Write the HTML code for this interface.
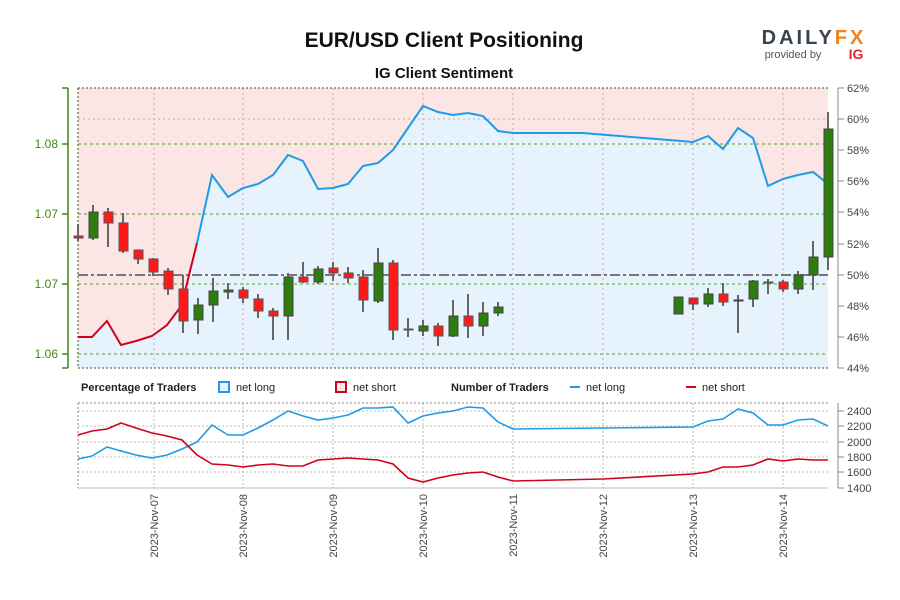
<!DOCTYPE html>
<html><head><meta charset="utf-8"><style>
body{margin:0;background:#fff;}
svg{display:block;font-family:"Liberation Sans",sans-serif;}
</style></head><body>
<svg width="900" height="600" viewBox="0 0 900 600" xmlns="http://www.w3.org/2000/svg">
<rect width="900" height="600" fill="#fff"/>
<text x="444" y="47" text-anchor="middle" font-size="21" font-weight="bold" fill="#111">EUR/USD Client Positioning</text>
<text x="444" y="78" text-anchor="middle" font-size="15" font-weight="bold" fill="#111">IG Client Sentiment</text>
<text x="814" y="44" text-anchor="middle" font-size="20" font-weight="bold" fill="#3b4350" letter-spacing="3">DAILY<tspan fill="#f0841c">FX</tspan></text>
<text x="793" y="58" text-anchor="middle" font-size="11" fill="#555">provided by</text>
<text x="856" y="59" text-anchor="middle" font-size="14" font-weight="bold" fill="#e3262b">IG</text>

<!-- main plot -->
<rect x="78" y="88" width="750" height="280" fill="#fbe5e5"/>
<polygon fill="#e6f3fc" points="78,337 92,337 107,321 121,345 136,341 152,336 167,325 182,305 197,243 212,175 228,197 243,188 258,184 273,175 288,155 303,161 318,189 333,188 348,184 363,166 378,163 393,150 408,128 423,106 438,112 453,115 468,113 483,116 498,131 513,133 583,133 693,142 708,136 723,149 738,128 753,138 768,186 783,179 798,175 813,172 828,184 828,368 78,368"/>
<g stroke="#c9a9a9" stroke-dasharray="2,3" stroke-width="1">
<line x1="78" y1="119" x2="828" y2="119"/>
<line x1="154" y1="88" x2="154" y2="368"/><line x1="243" y1="88" x2="243" y2="368"/><line x1="333" y1="88" x2="333" y2="368"/><line x1="423" y1="88" x2="423" y2="368"/><line x1="513" y1="88" x2="513" y2="368"/><line x1="603" y1="88" x2="603" y2="368"/><line x1="693" y1="88" x2="693" y2="368"/><line x1="783" y1="88" x2="783" y2="368"/>
</g>
<g stroke="#5aa02c" stroke-dasharray="3,3" stroke-width="1">
<line x1="78" y1="144" x2="828" y2="144"/><line x1="78" y1="214" x2="828" y2="214"/><line x1="78" y1="284" x2="828" y2="284"/><line x1="78" y1="354" x2="828" y2="354"/>
</g>
<g stroke="#2e5a10" stroke-dasharray="2,2" stroke-width="1">
<line x1="78" y1="88" x2="828" y2="88"/><line x1="78" y1="368" x2="828" y2="368"/><line x1="78" y1="88" x2="78" y2="368"/>
</g>
<line x1="78" y1="275" x2="828" y2="275" stroke="#777" stroke-width="2" stroke-dasharray="10,3,3,3"/>
<polyline fill="none" stroke="#d0021b" stroke-width="2" points="78,337 92,337 107,321 121,345 136,341 152,336 167,325 182,305 189,275 197,243"/>
<polyline fill="none" stroke="#1e9be6" stroke-width="2" points="197,243 212,175 228,197 243,188 258,184 273,175 288,155 303,161 318,189 333,188 348,184 363,166 378,163 393,150 408,128 423,106 438,112 453,115 468,113 483,116 498,131 513,133 583,133 693,142 708,136 723,149 738,128 753,138 768,186 783,179 798,175 813,172 828,184"/>

<!-- candles -->
<g stroke="#666" stroke-width="2">
<line x1="78" y1="224" x2="78" y2="241"/><line x1="93" y1="205" x2="93" y2="240"/><line x1="108" y1="208" x2="108" y2="247"/><line x1="123" y1="213" x2="123" y2="253"/><line x1="138" y1="250" x2="138" y2="264"/><line x1="153" y1="258" x2="153" y2="276"/><line x1="168" y1="268" x2="168" y2="295"/><line x1="183" y1="275" x2="183" y2="333"/><line x1="198" y1="298" x2="198" y2="334"/><line x1="213" y1="278" x2="213" y2="322"/><line x1="228" y1="283" x2="228" y2="299"/><line x1="243" y1="287" x2="243" y2="303"/><line x1="258" y1="294" x2="258" y2="318"/><line x1="273" y1="308" x2="273" y2="340"/><line x1="288" y1="273" x2="288" y2="340"/><line x1="303" y1="262" x2="303" y2="283"/><line x1="318" y1="266" x2="318" y2="284"/><line x1="333" y1="262" x2="333" y2="281"/><line x1="348" y1="267" x2="348" y2="283"/><line x1="363" y1="270" x2="363" y2="312"/><line x1="378" y1="248" x2="378" y2="303"/><line x1="393" y1="260" x2="393" y2="340"/><line x1="408" y1="318" x2="408" y2="337"/><line x1="423" y1="320" x2="423" y2="336"/><line x1="438" y1="323" x2="438" y2="346"/><line x1="453" y1="300" x2="453" y2="337"/><line x1="468" y1="294" x2="468" y2="338"/><line x1="483" y1="302" x2="483" y2="336"/><line x1="498" y1="302" x2="498" y2="316"/>
<line x1="693" y1="298" x2="693" y2="310"/><line x1="708" y1="288" x2="708" y2="307"/><line x1="723" y1="283" x2="723" y2="306"/><line x1="738" y1="295" x2="738" y2="333"/><line x1="753" y1="280" x2="753" y2="307"/><line x1="768" y1="279" x2="768" y2="294"/><line x1="783" y1="280" x2="783" y2="292"/><line x1="798" y1="271" x2="798" y2="294"/><line x1="813" y1="241" x2="813" y2="290"/><line x1="828" y1="112" x2="828" y2="270"/>
</g>
<g fill="#ff1a1a" stroke="#555" stroke-width="1">
<rect x="74" y="236" width="9" height="2"/><rect x="104" y="212" width="9" height="11"/><rect x="119" y="223" width="9" height="28"/><rect x="134" y="250" width="9" height="9"/><rect x="149" y="259" width="9" height="13"/><rect x="164" y="271" width="9" height="18"/><rect x="179" y="289" width="9" height="32"/><rect x="239" y="290" width="9" height="8"/><rect x="254" y="299" width="9" height="12"/><rect x="269" y="311" width="9" height="5"/><rect x="299" y="277" width="9" height="5"/><rect x="329" y="268" width="9" height="5"/><rect x="344" y="273" width="9" height="5"/><rect x="359" y="277" width="9" height="23"/><rect x="389" y="263" width="9" height="67"/><rect x="404" y="329" width="9" height="1"/><rect x="434" y="326" width="9" height="10"/><rect x="464" y="316" width="9" height="10"/>
<rect x="689" y="298" width="9" height="6"/><rect x="719" y="294" width="9" height="8"/><rect x="764" y="282" width="9" height="1"/><rect x="779" y="282" width="9" height="7"/>
</g>
<g fill="#2e7d0e" stroke="#444" stroke-width="1">
<rect x="89" y="212" width="9" height="26"/><rect x="194" y="305" width="9" height="15"/><rect x="209" y="291" width="9" height="14"/><rect x="224" y="290" width="9" height="2"/><rect x="284" y="277" width="9" height="39"/><rect x="314" y="269" width="9" height="13"/><rect x="374" y="263" width="9" height="38"/><rect x="419" y="326" width="9" height="5"/><rect x="449" y="316" width="9" height="20"/><rect x="479" y="313" width="9" height="13"/><rect x="494" y="307" width="9" height="6"/>
<rect x="674" y="297" width="9" height="17"/><rect x="704" y="294" width="9" height="10"/><rect x="734" y="300" width="9" height="1"/><rect x="749" y="281" width="9" height="18"/><rect x="794" y="275" width="9" height="14"/><rect x="809" y="257" width="9" height="18"/><rect x="824" y="129" width="9" height="128"/>
</g>

<!-- left axis -->
<g stroke="#3a8a12" stroke-width="1.5">
<line x1="68" y1="88" x2="68" y2="368"/>
<line x1="62" y1="88" x2="68" y2="88"/><line x1="62" y1="368" x2="68" y2="368"/>
<line x1="62" y1="144" x2="68" y2="144"/><line x1="62" y1="214" x2="68" y2="214"/><line x1="62" y1="284" x2="68" y2="284"/><line x1="62" y1="354" x2="68" y2="354"/>
</g>
<g font-size="12" fill="#3a8a12" text-anchor="end">
<text x="58" y="148">1.08</text><text x="58" y="218">1.07</text><text x="58" y="288">1.07</text><text x="58" y="358">1.06</text>
</g>
<!-- right axis -->
<g stroke="#888" stroke-width="1">
<line x1="838" y1="88" x2="838" y2="368"/>
<line x1="838" y1="88" x2="844" y2="88"/><line x1="838" y1="119" x2="844" y2="119"/><line x1="838" y1="150" x2="844" y2="150"/><line x1="838" y1="181" x2="844" y2="181"/><line x1="838" y1="212" x2="844" y2="212"/><line x1="838" y1="244" x2="844" y2="244"/><line x1="838" y1="275" x2="844" y2="275"/><line x1="838" y1="306" x2="844" y2="306"/><line x1="838" y1="337" x2="844" y2="337"/><line x1="838" y1="368" x2="844" y2="368"/>
</g>
<g font-size="11" fill="#444">
<text x="847" y="92">62%</text><text x="847" y="123">60%</text><text x="847" y="154">58%</text><text x="847" y="185">56%</text><text x="847" y="216">54%</text><text x="847" y="248">52%</text><text x="847" y="279">50%</text><text x="847" y="310">48%</text><text x="847" y="341">46%</text><text x="847" y="372">44%</text>
</g>

<!-- legend -->
<g font-size="11" fill="#222">
<text x="81" y="391" font-weight="bold">Percentage of Traders</text>
<rect x="219" y="382" width="10" height="10" fill="#e6f3fc" stroke="#1e9be6" stroke-width="2"/>
<text x="236" y="391">net long</text>
<rect x="336" y="382" width="10" height="10" fill="#fbe5e5" stroke="#d0021b" stroke-width="2"/>
<text x="353" y="391">net short</text>
<text x="451" y="391" font-weight="bold">Number of Traders</text>
<line x1="570" y1="387" x2="580" y2="387" stroke="#1e9be6" stroke-width="2"/>
<text x="586" y="391">net long</text>
<line x1="686" y1="387" x2="696" y2="387" stroke="#d0021b" stroke-width="2"/>
<text x="702" y="391">net short</text>
</g>

<!-- bottom plot -->
<g stroke="#bbb" stroke-dasharray="2,2" stroke-width="1">
<line x1="78" y1="411" x2="828" y2="411"/><line x1="78" y1="426" x2="828" y2="426"/><line x1="78" y1="442" x2="828" y2="442"/><line x1="78" y1="457" x2="828" y2="457"/><line x1="78" y1="472" x2="828" y2="472"/>
<line x1="154" y1="403" x2="154" y2="488"/><line x1="243" y1="403" x2="243" y2="488"/><line x1="333" y1="403" x2="333" y2="488"/><line x1="423" y1="403" x2="423" y2="488"/><line x1="513" y1="403" x2="513" y2="488"/><line x1="603" y1="403" x2="603" y2="488"/><line x1="693" y1="403" x2="693" y2="488"/><line x1="783" y1="403" x2="783" y2="488"/>
</g>
<g stroke="#888" stroke-dasharray="2,2" stroke-width="1">
<line x1="78" y1="403" x2="828" y2="403"/><line x1="78" y1="403" x2="78" y2="488"/>
</g>
<line x1="78" y1="488" x2="828" y2="488" stroke="#bbb" stroke-width="1"/>
<polyline fill="none" stroke="#1e9be6" stroke-width="1.6" points="78,459 92,456 107,447 121,451 136,455 152,458 167,455 182,449 197,442 212,425 228,435 243,435 258,428 273,420 288,411 303,416 318,420 333,418 348,415 363,408 378,408 393,407 408,423 423,416 438,413 453,411 468,407 483,408 498,422 513,429 603,428 693,427 708,421 723,419 738,409 753,413 768,425 783,425 798,420 813,419 828,426"/>
<polyline fill="none" stroke="#d0021b" stroke-width="1.6" points="78,435 92,431 107,429 121,423 136,428 152,433 167,436 182,440 197,455 212,464 228,465 243,467 258,465 273,464 288,466 303,466 318,460 333,459 348,458 363,459 378,460 393,464 408,478 423,482 438,478 453,475 468,473 483,472 498,477 513,481 603,479 693,474 708,472 723,467 738,467 753,465 768,459 783,461 798,459 813,460 828,460"/>
<g stroke="#888" stroke-width="1">
<line x1="838" y1="403" x2="838" y2="488"/>
<line x1="838" y1="411" x2="844" y2="411"/><line x1="838" y1="426" x2="844" y2="426"/><line x1="838" y1="442" x2="844" y2="442"/><line x1="838" y1="457" x2="844" y2="457"/><line x1="838" y1="472" x2="844" y2="472"/><line x1="838" y1="488" x2="844" y2="488"/>
</g>
<g font-size="11" fill="#444">
<text x="847" y="415">2400</text><text x="847" y="430">2200</text><text x="847" y="446">2000</text><text x="847" y="461">1800</text><text x="847" y="476">1600</text><text x="847" y="492">1400</text>
</g>
<g font-size="11" fill="#444" text-anchor="end">
<text transform="translate(158,494) rotate(-90)">2023-Nov-07</text>
<text transform="translate(247,494) rotate(-90)">2023-Nov-08</text>
<text transform="translate(337,494) rotate(-90)">2023-Nov-09</text>
<text transform="translate(427,494) rotate(-90)">2023-Nov-10</text>
<text transform="translate(517,494) rotate(-90)">2023-Nov-11</text>
<text transform="translate(607,494) rotate(-90)">2023-Nov-12</text>
<text transform="translate(697,494) rotate(-90)">2023-Nov-13</text>
<text transform="translate(787,494) rotate(-90)">2023-Nov-14</text>
</g>
</svg>
</body></html>
